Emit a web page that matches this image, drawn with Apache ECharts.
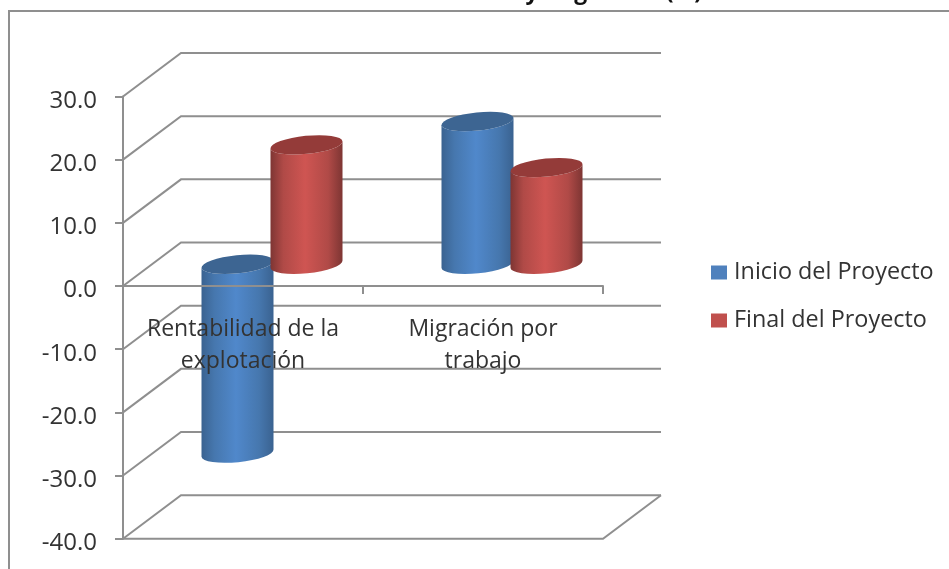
<!DOCTYPE html>
<html>
<head>
<meta charset="utf-8">
<style>html,body{margin:0;padding:0;background:#fff;overflow:hidden}#c{width:949px;height:569px;filter:blur(0.5px)}</style>
<script src="https://cdn.jsdelivr.net/npm/echarts@6/dist/echarts.min.js"></script>
</head>
<body>
<div id="c"></div>
<script>
const categories = ['Rentabilidad de la\nexplotación', 'Migración por\ntrabajo'];
const inicio = [-29.9, 22.6];
const finalP = [18.9, 15.3];
const yTicks = [-40, -30, -20, -10, 0, 10, 20, 30];
const seriesNames = ['Inicio del Proyecto', 'Final del Proyecto'];
const titleText = 'Rentabilidad y migración (%)';

const FONT = '"Open Sans"';
const GRID = '#8f8f8f';
const DX = 58, DY = -43.5;
const G = echarts.graphic;

function frame(params, api) {
  const v = api.value(1);
  const band = api.size([1, 0])[0];
  const p = api.coord([0, v]);
  const x0 = p[0] - band / 2, x1 = p[0] + band * 1.5, y = p[1];
  const back = [[x0, y], [x0 + DX, y + DY], [x1 + DX, y + DY]];
  const st = { stroke: GRID, lineWidth: 2, fill: null };
  const kids = [{ type: 'polyline', shape: { points: back }, style: st }];
  if (v === yTicks[0]) {
    kids.push({ type: 'polyline', shape: { points: [[x0, y], [x1, y], [x1 + DX, y + DY]] }, style: st });
  }
  return { type: 'group', children: kids };
}

function cylinder(side, colors) {
  return function (params, api) {
    const cat = api.value(0), val = api.value(1);
    const rx = 36, ry = 9, tilt = -5.8;
    const p0 = api.coord([cat, 0]), pv = api.coord([cat, val]);
    const cx = p0[0] + DX / 2 + side * 34.5;
    const yTop = Math.min(p0[1], pv[1]) + DY / 2;
    const yBot = Math.max(p0[1], pv[1]) + DY / 2;
    const t = Math.tan(tilt * Math.PI / 180) * rx;
    const lx = cx - rx, rxx = cx + rx;
    const body = `M${lx} ${yTop - t}L${lx} ${yBot - t}A${rx} ${ry} ${tilt} 0 0 ${rxx} ${yBot + t}L${rxx} ${yTop + t}A${rx} ${ry} ${tilt} 0 1 ${lx} ${yTop - t}Z`;
    const top = `M${lx} ${yTop - t}A${rx} ${ry} ${tilt} 0 1 ${rxx} ${yTop + t}A${rx} ${ry} ${tilt} 0 1 ${lx} ${yTop - t}Z`;
    return {
      type: 'group',
      children: [
        { type: 'path', shape: { pathData: body }, style: {
          fill: new G.LinearGradient(0, 0, 1, 0, [
            { offset: 0, color: colors[0] },
            { offset: 0.18, color: colors[1] },
            { offset: 0.48, color: colors[2] },
            { offset: 0.8, color: colors[1] },
            { offset: 1, color: colors[0] }
          ])
        } },
        { type: 'path', shape: { pathData: top }, style: { fill: colors[3] } }
      ]
    };
  };
}

const chart = echarts.init(document.getElementById('c'), null, { renderer: 'canvas' });
chart.setOption({
  backgroundColor: '#fff',
  animation: false,
  title: { text: titleText, right: 242, top: -24, textStyle: { fontFamily: FONT, fontSize: 23, fontWeight: 'bold', color: '#111' } },
  grid: { left: 123, right: 346, top: 96.5, bottom: 30.3, outerBoundsMode: 'none' },
  legend: {
    data: seriesNames, orient: 'vertical', left: 706, top: 256, itemWidth: 16, itemHeight: 14, itemGap: 25, icon: 'rect',
    textStyle: { fontFamily: FONT, fontSize: 23.4, color: '#333', padding: [0, 0, 0, 2] }
  },
  xAxis: {
    type: 'category', data: categories, z: 10,
    axisLine: { onZero: true, lineStyle: { color: GRID, width: 2 } },
    axisTick: { show: true, length: 8, lineStyle: { color: GRID, width: 2 } },
    axisLabel: { interval: 0, margin: -225, fontFamily: FONT, fontSize: 23, lineHeight: 32, color: '#333' },
    splitLine: { show: false }
  },
  yAxis: {
    type: 'value', min: -40, max: 30, interval: 10, z: 10,
    axisLine: { show: true, onZero: false, lineStyle: { color: GRID, width: 2 } },
    axisTick: { show: true, length: 8, lineStyle: { color: GRID, width: 2 } },
    axisLabel: {
      margin: 26, fontFamily: FONT, fontSize: 24, color: '#333',
      formatter: v => '{n|' + v.toFixed(1) + '}',
      rich: { n: { fontFamily: FONT, fontSize: 24, color: '#333', padding: [9, 0, 0, 0] } }
    },
    splitLine: { show: false }
  },
  series: [
    { type: 'custom', name: 'frame', z: 1, silent: true, renderItem: frame, data: yTicks.map(v => [0, v]), encode: { x: 0, y: 1 } },
    { type: 'custom', name: seriesNames[0], z: 3, itemStyle: { color: '#4f81bd' }, renderItem: cylinder(-1, ['#3a6290', '#4677ae', '#5088cb', '#3d6592']), data: inicio.map((v, i) => [i, v]), encode: { x: 0, y: 1 } },
    { type: 'custom', name: seriesNames[1], z: 4, itemStyle: { color: '#c0504d' }, renderItem: cylinder(1, ['#7d3533', '#b04a47', '#cf5552', '#943b39']), data: finalP.map((v, i) => [i, v]), encode: { x: 0, y: 1 } }
  ],
  graphic: [{ type: 'rect', silent: true, z: 0, shape: { x: 9, y: 11, width: 960, height: 600 }, style: { fill: null, stroke: '#8f8f8f', lineWidth: 2 } }]
});
</script>
</body>
</html>
